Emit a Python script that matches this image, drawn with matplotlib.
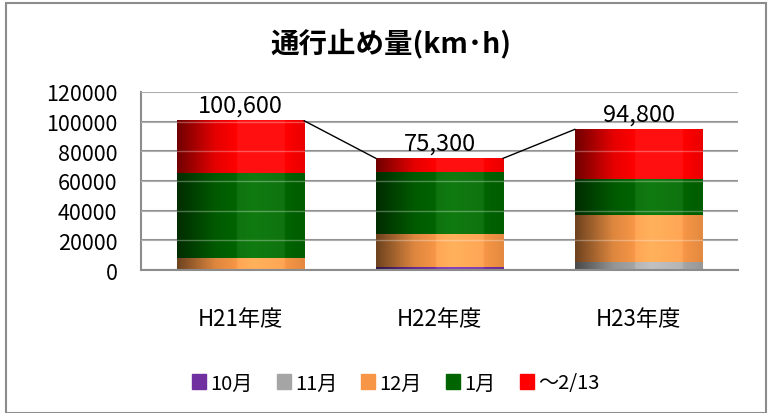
import matplotlib.pyplot as plt
import matplotlib.patches as mpatches
import numpy as np

plt.rcParams['font.family'] = ['Noto Sans CJK JP', 'DejaVu Sans']

categories = ['H21年度', 'H22年度', 'H23年度']
series_names = ['10月', '11月', '12月', '1月', '～2/13']
oct_vals = [0, 1800, 500]
nov_vals = [0, 200, 5000]
dec_vals = [8200, 22600, 31400]
jan_vals = [57300, 41600, 24500]
feb_vals = [35100, 9100, 33400]
totals = [100600, 75300, 94800]
total_labels = ['100,600', '75,300', '94,800']
colors = ['#7030A0', '#A5A5A5', '#F79646', '#006400', '#FF0000']


def shade_bar(ax, patch, color):
    # cylinder-like shading: dark left edge, light towards the middle
    t = np.linspace(0, 1, 64)
    f = np.interp(t, [0, 0.3, 0.6, 0.85, 1], [0.45, 0.9, 1.08, 1.0, 0.92])
    base = np.array(plt.matplotlib.colors.to_rgb(color))
    rgb = np.clip(base[None, :] * f[:, None] + (f[:, None] > 1) * 0.06, 0, 1)
    img = rgb[None, :, :]
    x, y = patch.get_x(), patch.get_y()
    w, h = patch.get_width(), patch.get_height()
    if h <= 0:
        return
    ax.imshow(img, extent=[x, x + w, y, y + h], aspect='auto',
              zorder=patch.get_zorder() + 0.1, interpolation='bilinear')


fig = plt.figure(figsize=(7.68, 4.14), dpi=100)
ax = fig.add_axes([141 / 768, 1 - 271 / 414, (738 - 141) / 768, (271 - 93) / 414])

x = np.arange(len(categories))
width = 0.64
bottom = np.zeros(len(categories))
stacks = [oct_vals, nov_vals, dec_vals, jan_vals, feb_vals]
for name, vals, col in zip(series_names, stacks, colors):
    bars = ax.bar(x, vals, width, bottom=bottom, color=col, label=name, zorder=2)
    for p in bars:
        shade_bar(ax, p, col)
    bottom += np.array(vals)

# series lines between bar tops
for i in range(len(categories) - 1):
    ax.plot([x[i] + width / 2, x[i + 1] - width / 2], [totals[i], totals[i + 1]],
            color='black', lw=1, zorder=4)

for xi, tot, lab in zip(x, totals, total_labels):
    ax.text(xi, tot + 2500, lab, ha='center', va='bottom', fontsize=17, zorder=5)

# faint light lines where gridlines cross the bars
for yv in range(20000, 120001, 20000):
    ax.axhline(yv, color='white', lw=1, alpha=0.3, zorder=3)

ax.set_xlim(-0.5, 2.5)
ax.set_ylim(0, 120000)
ax.set_yticks(range(0, 120001, 20000))
ax.set_xticks(x)
ax.set_xticklabels(categories, fontsize=16)
ax.tick_params(axis='y', length=0, pad=17, labelsize=15.5)
ax.tick_params(axis='x', length=0, pad=27)
ax.yaxis.grid(True, color='#8c8c8c', lw=1.5)
ax.set_axisbelow(True)
for s in ['top', 'right']:
    ax.spines[s].set_visible(False)
for s in ['left', 'bottom']:
    ax.spines[s].set_color('#8c8c8c')
    ax.spines[s].set_linewidth(1.5)

fig.text(0.509, 1 - 43 / 414, '通行止め量(km･h)', ha='center', va='center',
         fontsize=20.5, fontweight='bold')

handles = [mpatches.Patch(color=c) for c in colors]
fig.legend(handles, series_names, ncol=5, loc='center',
           bbox_to_anchor=(0.515, 1 - 384 / 414), frameon=False, fontsize=14.5,
           handlelength=0.7, handleheight=0.7, handletextpad=0.2,
           columnspacing=1.2)

fig.patches.append(mpatches.Rectangle((6 / 768, 0), 760 / 768, 1 - 4 / 414,
                                      transform=fig.transFigure, fill=False,
                                      edgecolor='#8c8c8c', lw=1.5))

fig.savefig('out.png', dpi=100)
